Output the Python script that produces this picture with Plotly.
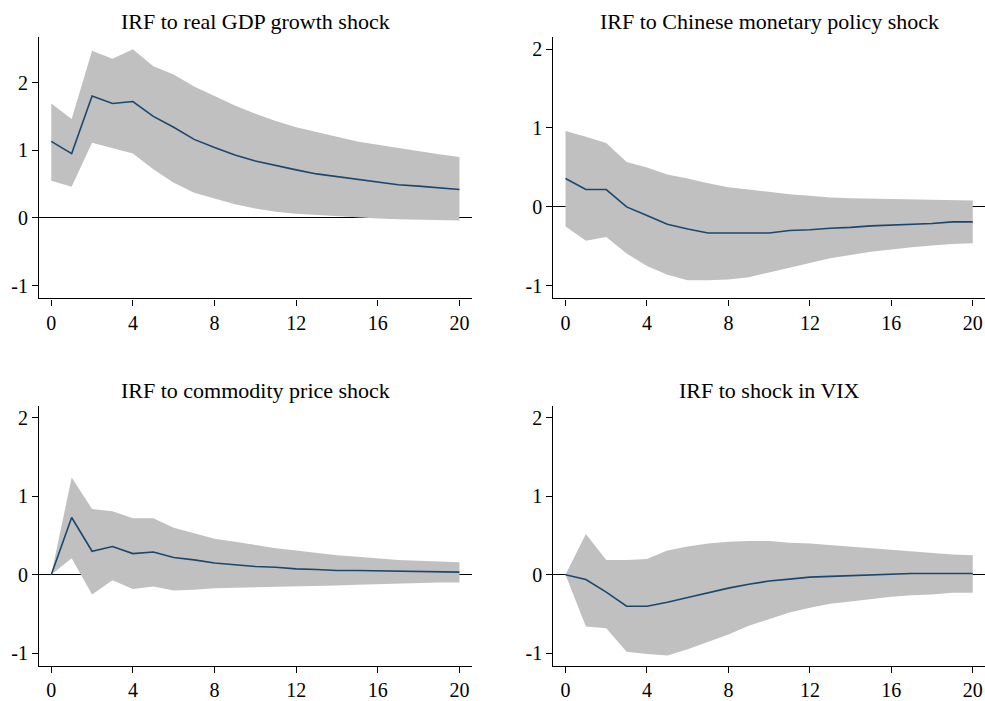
import plotly.graph_objects as go

horizon = list(range(21))

titles = [
    "IRF to real GDP growth shock",
    "IRF to Chinese monetary policy shock",
    "IRF to commodity price shock",
    "IRF to shock in VIX",
]

gdp_irf = [1.13, 0.95, 1.80, 1.69, 1.72, 1.50, 1.34, 1.16, 1.04, 0.93, 0.84, 0.77, 0.71, 0.65, 0.61, 0.56, 0.52, 0.49, 0.47, 0.45, 0.42]
gdp_up = [1.69, 1.46, 2.47, 2.35, 2.49, 2.24, 2.12, 1.94, 1.80, 1.66, 1.54, 1.43, 1.34, 1.27, 1.20, 1.13, 1.08, 1.03, 0.98, 0.94, 0.90]
gdp_lo = [0.55, 0.46, 1.11, 1.03, 0.95, 0.72, 0.52, 0.37, 0.28, 0.20, 0.14, 0.09, 0.06, 0.04, 0.03, 0.005, -0.01, -0.02, -0.03, -0.04, -0.04]

cmp_irf = [0.36, 0.22, 0.22, 0.00, -0.11, -0.22, -0.28, -0.33, -0.33, -0.33, -0.33, -0.30, -0.29, -0.27, -0.26, -0.24, -0.23, -0.22, -0.21, -0.19, -0.19]
cmp_up = [0.96, 0.89, 0.81, 0.57, 0.50, 0.41, 0.36, 0.30, 0.25, 0.22, 0.19, 0.16, 0.14, 0.12, 0.11, 0.105, 0.10, 0.093, 0.089, 0.084, 0.08]
cmp_lo = [-0.25, -0.43, -0.38, -0.59, -0.75, -0.86, -0.93, -0.93, -0.92, -0.89, -0.83, -0.77, -0.71, -0.65, -0.61, -0.57, -0.54, -0.51, -0.49, -0.47, -0.46]

com_irf = [0.0, 0.73, 0.30, 0.36, 0.27, 0.29, 0.22, 0.19, 0.15, 0.13, 0.105, 0.097, 0.076, 0.068, 0.055, 0.055, 0.05, 0.046, 0.038, 0.038, 0.034]
com_up = [0.0, 1.24, 0.84, 0.81, 0.72, 0.72, 0.60, 0.53, 0.46, 0.42, 0.38, 0.34, 0.31, 0.28, 0.25, 0.23, 0.21, 0.19, 0.18, 0.17, 0.16]
com_lo = [0.0, 0.21, -0.25, -0.07, -0.18, -0.15, -0.20, -0.19, -0.17, -0.165, -0.165, -0.156, -0.152, -0.143, -0.135, -0.127, -0.118, -0.11, -0.10, -0.097, -0.097]

vix_irf = [0.0, -0.06, -0.22, -0.40, -0.40, -0.35, -0.29, -0.23, -0.17, -0.12, -0.08, -0.055, -0.03, -0.02, -0.01, 0.0, 0.004, 0.017, 0.017, 0.017, 0.017]
vix_up = [0.0, 0.52, 0.19, 0.19, 0.20, 0.31, 0.36, 0.40, 0.42, 0.43, 0.43, 0.41, 0.40, 0.38, 0.36, 0.34, 0.315, 0.30, 0.28, 0.26, 0.25]
vix_lo = [0.0, -0.66, -0.68, -0.98, -1.01, -1.03, -0.95, -0.86, -0.76, -0.65, -0.56, -0.48, -0.42, -0.37, -0.34, -0.31, -0.28, -0.26, -0.25, -0.23, -0.23]

series = [
    (gdp_irf, gdp_up, gdp_lo),
    (cmp_irf, cmp_up, cmp_lo),
    (com_irf, com_up, com_lo),
    (vix_irf, vix_up, vix_lo),
]

x_ticks = [0, 4, 8, 12, 16, 20]
y_ticks = [-1, 0, 1, 2]
y_tick_text = ["-1", "0", "1", "2"]

W, H = 985, 701
# panel pixel boxes in window coords: (left, right, top, bottom)
boxes = [
    (39, 471.7, 37.3, 299.3),
    (553.3, 985, 37.3, 299.3),
    (39, 471.7, 407.3, 667.7),
    (553.3, 985, 407.3, 667.7),
]
y_ranges = [[-1.19, 2.67], [-1.16, 2.15], [-1.16, 2.15], [-1.16, 2.15]]
title_y = [22, 22, 392, 392]

band_color = "#c0c0c0"
line_color = "#1a476f"
font_family = "Liberation Serif, Times New Roman, serif"

fig = go.Figure()
layout = dict(
    width=W, height=H,
    margin=dict(l=0, r=0, t=0, b=0),
    paper_bgcolor="white", plot_bgcolor="white",
    showlegend=False,
    font=dict(family=font_family, size=20, color="black"),
    annotations=[],
)

for i, ((irf, up, lo), box) in enumerate(zip(series, boxes)):
    n = "" if i == 0 else str(i + 1)
    xa, ya = "x" + n, "y" + n
    fig.add_trace(go.Scatter(x=horizon, y=up, xaxis=xa, yaxis=ya, mode="lines",
                             line=dict(width=0, color=band_color), hoverinfo="skip"))
    fig.add_trace(go.Scatter(x=horizon, y=lo, xaxis=xa, yaxis=ya, mode="lines",
                             line=dict(width=0, color=band_color), fill="tonexty",
                             fillcolor=band_color, hoverinfo="skip"))
    fig.add_trace(go.Scatter(x=horizon, y=irf, xaxis=xa, yaxis=ya, mode="lines",
                             line=dict(width=1.6, color=line_color)))
    l, r, t, b = box
    layout["xaxis" + n] = dict(
        domain=[l / W, min(r / W, 1.0)], anchor=ya, range=[-0.6, 20.6],
        tickvals=x_ticks, ticks="outside", ticklen=6, tickwidth=1.2, tickcolor="black",
        showline=True, linecolor="black", linewidth=1.2, showgrid=False, zeroline=False,
        tickfont=dict(size=20),
    )
    layout["yaxis" + n] = dict(
        domain=[1 - b / H, 1 - t / H], anchor=xa, range=y_ranges[i],
        tickvals=y_ticks, ticktext=y_tick_text, ticks="outside", ticklen=6,
        tickwidth=1.2, tickcolor="black",
        showline=True, linecolor="black", linewidth=1.2, showgrid=False,
        zeroline=True, zerolinecolor="black", zerolinewidth=1.2,
        tickfont=dict(size=20),
    )
    layout["annotations"].append(dict(
        text=titles[i], xref="paper", yref="paper",
        x=(l + r) / 2 / W, y=1 - title_y[i] / H, xanchor="center", yanchor="middle",
        showarrow=False, font=dict(size=22, family=font_family, color="black"),
    ))

fig.update_layout(**layout)
fig.write_html(
    "out.html",
    config={"displayModeBar": False},
    post_script="document.body.style.margin='0';document.body.style.overflow='hidden';",
)
